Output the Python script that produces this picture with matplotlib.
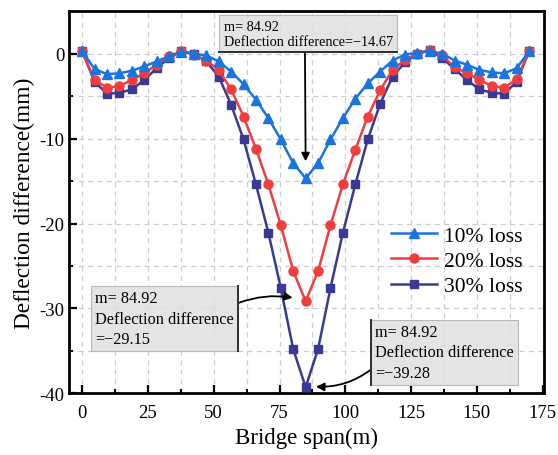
import numpy as np
import matplotlib
matplotlib.use("Agg")
import matplotlib.pyplot as plt
from matplotlib.lines import Line2D
from matplotlib.ticker import MultipleLocator

plt.rcParams["font.family"] = ["Liberation Serif", "DejaVu Serif"]
plt.rcParams["axes.unicode_minus"] = False

# ── Data ──────────────────────────────────────────────────────────────────────
span = [0.00, 4.72, 9.44, 14.15, 18.87, 23.59, 28.31, 33.02, 37.74, 42.46,
        47.18, 51.90, 56.61, 61.33, 66.05, 70.77, 75.48, 80.20, 84.92, 89.64,
        94.36, 99.07, 103.79, 108.51, 113.23, 117.94, 122.66, 127.38, 132.10, 136.82,
        141.53, 146.25, 150.97, 155.69, 160.40, 165.12, 169.84]

loss10 = [0.3, -1.8, -2.4, -2.3, -2.0, -1.5, -0.9, -0.3, 0.2, 0.0,
          -0.2, -0.9, -2.1, -3.6, -5.4, -7.6, -10.1, -12.9, -14.67, -12.9,
          -10.1, -7.6, -5.3, -3.5, -2.1, -0.8, -0.1, 0.1, 0.35, 0.0,
          -0.8, -1.3, -1.9, -2.2, -2.3, -1.7, 0.3]

loss20 = [0.3, -3.1, -4.0, -3.8, -3.1, -2.3, -1.3, -0.3, 0.3, -0.1,
          -0.8, -1.9, -4.2, -7.4, -11.2, -15.4, -20.2, -25.6, -29.15, -25.6,
          -20.2, -15.4, -11.3, -7.4, -4.3, -1.9, -0.7, 0.0, 0.4, -0.2,
          -1.6, -2.3, -3.1, -3.8, -4.0, -3.0, 0.3]

loss30 = [0.3, -3.3, -4.7, -4.6, -4.2, -3.1, -1.7, -0.5, 0.3, 0.0,
          -0.9, -2.7, -6.0, -10.1, -15.4, -21.1, -27.6, -34.8, -39.28, -34.8,
          -27.6, -21.1, -15.4, -10.1, -5.9, -2.7, -1.0, 0.0, 0.4, -0.5,
          -1.8, -3.1, -4.2, -4.6, -4.7, -3.3, 0.3]

labels = ["10% loss", "20% loss", "30% loss"]
peak_x = 84.92

# ── Styles ────────────────────────────────────────────────────────────────────
BLUE = "#1a74e0"
RED = "#f03e3e"
NAVY = "#3a3a96"

fig = plt.figure(figsize=(5.58, 4.56), dpi=100)
ax = fig.add_axes([69 / 558, 1 - 394.3 / 456, (543.5 - 69) / 558, (394.3 - 12.3) / 456])

ax.plot(span, loss10, color=BLUE, lw=1.8, marker="^", ms=7, label=labels[0], zorder=5)
ax.plot(span, loss20, color=RED, lw=1.8, marker="o", ms=6.5, label=labels[1], zorder=4)
ax.plot(span, loss30, color=NAVY, lw=1.8, marker="s", ms=6, label=labels[2], zorder=3)

ax.set_xlim(-5, 175.3)
ax.set_ylim(-40, 5)
ax.xaxis.set_major_locator(MultipleLocator(25))
ax.xaxis.set_minor_locator(MultipleLocator(12.5))
ax.yaxis.set_major_locator(MultipleLocator(10))
ax.yaxis.set_minor_locator(MultipleLocator(5))

ax.grid(True, which="both", color="#cccccc", ls=(0, (4, 3.5)), lw=0.9)
ax.set_axisbelow(True)

for s in ax.spines.values():
    s.set_linewidth(2)
ax.tick_params(which="major", direction="in", length=6, width=1.6, labelsize=13.5,
               top=False, right=False)
ax.tick_params(which="minor", direction="in", length=3, width=1.4, top=False, right=False)
ax.tick_params(axis="x", pad=8)

ax.set_xlabel("Bridge span(m)", fontsize=16.5, labelpad=4)
ax.set_ylabel("Deflection difference(mm)", fontsize=16.8, labelpad=3)

leg = ax.legend(loc="upper left", bbox_to_anchor=(0.638, 0.49), frameon=False,
                fontsize=15.5, handlelength=2.15, handletextpad=0.3, labelspacing=0.25)

# ── Annotations ───────────────────────────────────────────────────────────────
box1 = dict(boxstyle="square,pad=0.3", fc=(0.88, 0.88, 0.88, 0.85), ec="#b8b8b8", lw=0.8)
box = dict(boxstyle="square,pad=0.25", fc=(0.88, 0.88, 0.88, 0.85), ec="#b8b8b8", lw=0.8)
arrow = dict(arrowstyle="-|>", color="black", lw=1.3, shrinkA=0, shrinkB=2,
             mutation_scale=12)

a1 = ax.annotate(f"m= {peak_x:.2f}\nDeflection difference=\u221214.67",
                 xy=(peak_x, -13.0), xytext=(53.8, 4.0), ha="left", va="top",
                 fontsize=10.3, linespacing=1.2, bbox=box1,
                 arrowprops=dict(arrow, relpos=(0.48, 0.0), connectionstyle="arc3,rad=0"))

a2 = ax.annotate(f"m= {peak_x:.2f}\nDeflection difference\n=\u221229.15",
                 xy=(81.0, -28.8), xytext=(5.0, -27.8), ha="left", va="top",
                 fontsize=11.7, linespacing=1.4, bbox=box,
                 arrowprops=dict(arrow, relpos=(1.0, 0.74), connectionstyle="arc3,rad=-0.15"))

a3 = ax.annotate(f"m= {peak_x:.2f}\nDeflection difference\n=\u221239.28",
                 xy=(87.8, -39.2), xytext=(111.3, -31.8), ha="left", va="top",
                 fontsize=11.7, linespacing=1.4, bbox=box,
                 arrowprops=dict(arrow, relpos=(0.0, 0.26), connectionstyle="arc3,rad=-0.2"))

# dark edge on the side of each box where the arrow leaves
fig.canvas.draw()
inv = fig.transFigure.inverted()
for ann, side in ((a1, "bottom"), (a2, "right"), (a3, "left")):
    bb = inv.transform_bbox(ann.get_bbox_patch().get_window_extent())
    if side == "bottom":
        xs, ys = [bb.x0, bb.x1], [bb.y0, bb.y0]
    elif side == "right":
        xs, ys = [bb.x1, bb.x1], [bb.y0, bb.y1]
    else:
        xs, ys = [bb.x0, bb.x0], [bb.y0, bb.y1]
    fig.add_artist(Line2D(xs, ys, color="#303030", lw=1.4, zorder=10))

fig.savefig("out.png", dpi=100)
